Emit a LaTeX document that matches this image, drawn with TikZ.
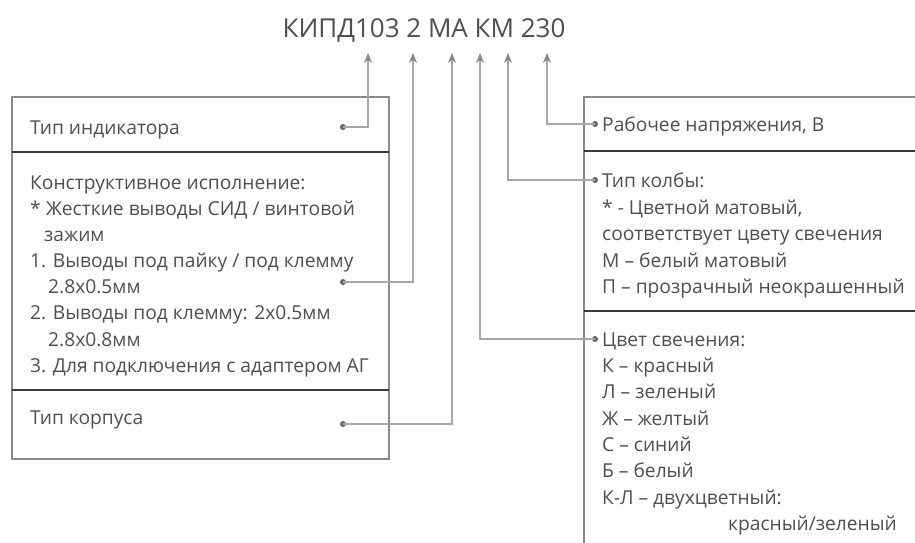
\documentclass[tikz,border=0pt]{standalone}
\usepackage{fontspec}
\setmainfont{Open Sans}
\usetikzlibrary{arrows.meta}
\definecolor{txt}{HTML}{4F4F4F}
\definecolor{conn}{HTML}{A8A8A8}
\definecolor{frame}{HTML}{8A8A8A}
\definecolor{divid}{HTML}{3A3A3A}
\definecolor{tipc}{HTML}{888888}
\tikzset{
  lbl/.style={anchor=base west, inner sep=0pt, text=txt, font=\fontsize{19.2}{22}\selectfont},
  conline/.style={draw=conn, line width=1.1pt},
  uparrow/.style={conline, -{Stealth[length=10pt,width=8pt,fill=tipc,color=tipc]}},
  framebox/.style={draw=frame, line width=1.3pt},
  divider/.style={draw=divid, line width=1.4pt},
  dotmark/.style={circle, fill=gray!80!black, inner sep=0pt, minimum size=6pt},
}
\begin{document}
\begin{tikzpicture}[x=1pt,y=-1pt]
\useasboundingbox (0,0) rectangle (915,542);
% title
\node[inner sep=0pt, text=txt, font=\fontsize{26}{30}\selectfont] (title) at (424,30) {КИПД103 2 МА КМ 230};
% arrow tips
\coordinate (t1) at (368,53);
\coordinate (t2) at (413,53);
\coordinate (t3) at (452,53);
\coordinate (t4) at (480,53);
\coordinate (t5) at (508,53);
\coordinate (t6) at (547,53);
% left box
\draw[framebox] (12,97) rectangle (389,459);
\coordinate (ld1a) at (12,152); \coordinate (ld1b) at (389,152);
\coordinate (ld2a) at (12,390); \coordinate (ld2b) at (389,390);
\draw[divider] (ld1a) -- (ld1b);
\draw[divider] (ld2a) -- (ld2b);
% right box
\coordinate (rtl) at (584,97);
\draw[framebox] (918,97) -- (rtl) -- (584,545);
\coordinate (rd1a) at (584,151); \coordinate (rd1b) at (918,151);
\coordinate (rd2a) at (584,311); \coordinate (rd2b) at (918,311);
\draw[divider] (rd1a) -- (rd1b);
\draw[divider] (rd2a) -- (rd2b);
% left texts
\node[lbl] (l1) at (30,134) {Тип индикатора};
\node[lbl] (l2) at (30,189) {Конструктивное исполнение:};
\node[lbl] (l3) at (30,215) {* Жесткие выводы СИД / винтовой};
\node[lbl] (l4) at (44,241) {зажим};
\node[lbl] (l5) at (30,267) {1. Выводы под пайку / под клемму};
\node[lbl] (l6) at (48,293) {2.8x0.5мм};
\node[lbl] (l7) at (30,319) {2. Выводы под клемму: 2x0.5мм};
\node[lbl] (l8) at (48,346) {2.8x0.8мм};
\node[lbl] (l9) at (30,372) {3. Для подключения с адаптером АГ};
\node[lbl] (l10) at (30,424) {Тип корпуса};
% right texts
\node[lbl] (r1) at (602,131) {Рабочее напряжения, В};
\node[lbl] (r2) at (602,187) {Тип колбы:};
\node[lbl] (r3) at (602,214) {* - Цветной матовый,};
\node[lbl] (r4) at (602,240) {соответствует цвету свечения};
\node[lbl] (r5) at (602,267) {М – белый матовый};
\node[lbl] (r6) at (602,293) {П – прозрачный неокрашенный};
\node[lbl] (r7) at (602,346) {Цвет свечения:};
\node[lbl] (r8) at (602,372) {К – красный};
\node[lbl] (r9) at (602,398) {Л – зеленый};
\node[lbl] (r10) at (602,425) {Ж – желтый};
\node[lbl] (r11) at (602,451) {С – синий};
\node[lbl] (r12) at (602,477) {Б – белый};
\node[lbl] (r13) at (602,504) {К-Л – двухцветный:};
\node[lbl, anchor=base east] (r14) at (897,530) {красный/зеленый};
% dots
\node[dotmark] (d1) at (343,127) {};
\node[dotmark] (d2) at (343,282) {};
\node[dotmark] (d3) at (343,424) {};
\node[dotmark] (d4) at (595,124) {};
\node[dotmark] (d5) at (595,180) {};
\node[dotmark] (d6) at (595,339) {};
% connectors
\draw[uparrow] (d1.center) -| (t1);
\draw[uparrow] (d2.center) -| (t2);
\draw[uparrow] (d3.center) -| (t3);
\draw[uparrow] (d6.center) -| (t4);
\draw[uparrow] (d5.center) -| (t5);
\draw[uparrow] (d4.center) -| (t6);
\end{tikzpicture}
\end{document}
